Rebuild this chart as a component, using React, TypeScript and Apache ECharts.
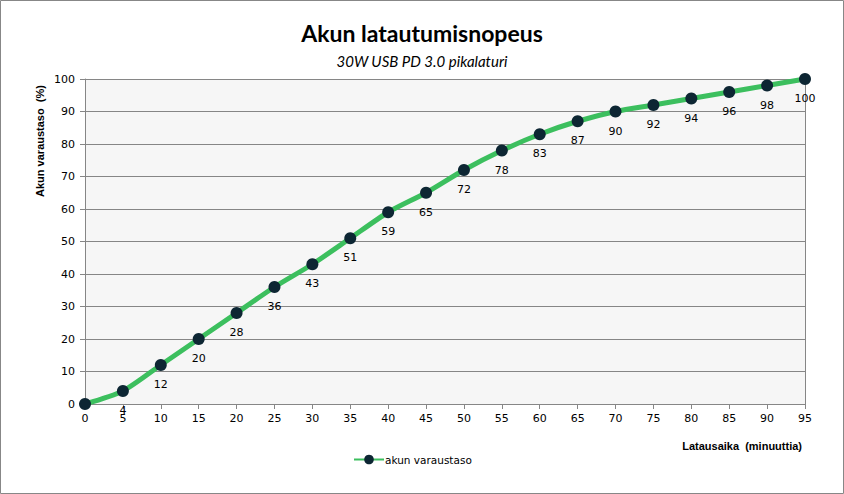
import React, { useEffect, useRef } from "react";
import * as echarts from "echarts";

const minutes = [0, 5, 10, 15, 20, 25, 30, 35, 40, 45, 50, 55, 60, 65, 70, 75, 80, 85, 90, 95];
const charge = [0, 4, 12, 20, 28, 36, 43, 51, 59, 65, 72, 78, 83, 87, 90, 92, 94, 96, 98, 100];
const seriesName = "akun varaustaso";
const titleText = "Akun latautumisnopeus";
const subtitleText = "30W USB PD 3.0 pikalaturi";
const yName = "Akun varaustaso  (%)";
const xName = "Latausaika  (minuuttia)";

export default function App() {
  const ref = useRef<HTMLDivElement>(null);
  useEffect(() => {
    if (!ref.current) return;
    const chart = echarts.init(ref.current, null, { renderer: "svg" });
    const data = minutes.map((m, i) => [m, charge[i]]);
    const tickFont = { fontFamily: "DejaVu Sans", fontSize: 11, color: "#000" };
    chart.setOption({
      animation: false,
      backgroundColor: "#ffffff",
      title: [
        {
          text: titleText,
          left: "center",
          top: 16,
          textStyle: { fontFamily: "Lato", fontWeight: "bold", fontSize: 23, color: "#000" },
        },
        {
          text: subtitleText,
          left: "center",
          top: 48,
          textStyle: { fontFamily: "Lato", fontStyle: "italic", fontWeight: "normal", fontSize: 15, color: "#000" },
        },
      ],
      grid: { left: 85, right: 39, top: 79, bottom: 90, show: true, backgroundColor: "#f6f6f6", borderWidth: 0 },
      xAxis: {
        type: "value",
        min: 0,
        max: 95,
        interval: 5,
        axisLine: { show: true, lineStyle: { color: "#868686", width: 1 } },
        axisTick: { show: true, length: 5, lineStyle: { color: "#868686" } },
        axisLabel: { ...tickFont, margin: 9 },
        splitLine: { show: false },
      },
      yAxis: {
        type: "value",
        min: 0,
        max: 100,
        interval: 10,
        axisLine: { show: true, lineStyle: { color: "#868686", width: 1 } },
        axisTick: { show: true, length: 5, lineStyle: { color: "#868686" } },
        axisLabel: { ...tickFont, margin: 10 },
        splitLine: { show: true, lineStyle: { color: "#868686", width: 1 } },
      },
      legend: {
        show: true,
        bottom: 24,
        left: 348,
        itemWidth: 30,
        itemHeight: 12,
        itemGap: 2,
        textStyle: { fontFamily: "DejaVu Sans", fontSize: 10.5, color: "#000", padding: [0, 0, 0, -4] },
        data: [seriesName],
      },
      series: [
        {
          name: seriesName,
          type: "line",
          data,
          smooth: 0.25,
          symbol: "circle",
          symbolSize: 12,
          lineStyle: { color: "#3cbf5e", width: 5 },
          itemStyle: { color: "#0d2633", borderWidth: 0 },
          label: {
            show: true,
            position: "bottom",
            distance: 8,
            fontFamily: "DejaVu Sans",
            fontSize: 11,
            color: "#000",
            formatter: (p: any) => (p.value[1] === 0 ? "" : String(p.value[1])),
          },
          z: 3,
        },
      ],
      graphic: [
        {
          type: "rect",
          shape: { x: 0.5, y: 0.5, width: 843, height: 493 },
          style: { fill: "none", stroke: "#878787", lineWidth: 1 },
          silent: true,
        },
        {
          type: "line",
          shape: { x1: 805.5, y1: 79, x2: 805.5, y2: 404 },
          style: { stroke: "#868686", lineWidth: 1 },
          silent: true,
        },
        {
          type: "text",
          x: 40,
          y: 141,
          rotation: Math.PI / 2,
          style: {
            text: yName,
            fontFamily: "Liberation Sans",
            fontWeight: "bold",
            fontSize: 11,
            fill: "#000",
            align: "center",
            verticalAlign: "middle",
          },
        },
        {
          type: "text",
          x: 802,
          y: 446,
          style: {
            text: xName,
            fontFamily: "Liberation Sans",
            fontWeight: "bold",
            fontSize: 11,
            fill: "#000",
            align: "right",
            verticalAlign: "middle",
          },
        },
      ],
    });
    return () => chart.dispose();
  }, []);
  return <div ref={ref} style={{ position: "fixed", left: 0, top: 0, width: 844, height: 494 }} />;
}
